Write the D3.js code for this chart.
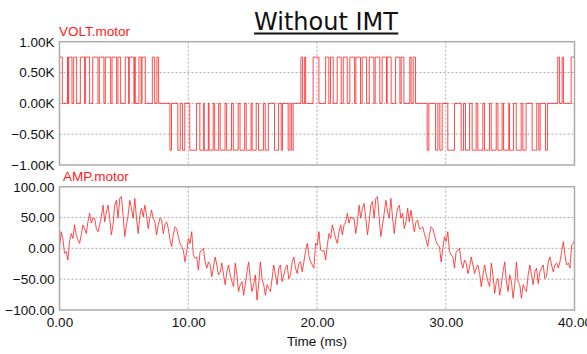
<!DOCTYPE html>
<html>
<head>
<meta charset="utf-8">
<script src="https://cdn.jsdelivr.net/npm/d3@7"></script>
<style>
  html, body { margin: 0; padding: 0; background: #fff; }
  svg { display: block; }
  .tick text { font-family: "Liberation Sans", Arial, sans-serif; font-size: 13.5px; fill: #111; }
</style>
</head>
<body>
<div id="chart"></div>
<script>
// axis ticks
const timeTicks = [0, 10, 20, 30, 40]
const voltTicks = [1000, 500, 0, -500, -1000]
const ampTicks = [100, 50, 0, -50, -100]

// PWM voltage: pulse [start, end] in ms
const posLevel = 750
const negLevel = -760
const posPulses = [
  [0, 0.22], [0.62, 0.66], [0.71, 0.97], [1.10, 1.33], [1.62, 1.95], [2.01, 2.34],
  [2.58, 2.99], [3.09, 3.45], [3.56, 3.97], [4.08, 4.44], [4.54, 4.75], [5.11, 5.37],
  [5.42, 5.78], [5.84, 5.88], [6.17, 6.35], [6.41, 6.66], [7.21, 7.39], [7.57, 7.70],
  [18.75, 18.88], [19.04, 19.12], [19.70, 20.15], [20.67, 20.92], [21.05, 21.26],
  [21.57, 21.88], [22.04, 22.35], [22.55, 22.92], [23.02, 23.38], [23.51, 23.85],
  [24.06, 24.42], [24.52, 24.88], [25.06, 25.40], [25.45, 25.76], [26.10, 26.44],
  [26.54, 26.75], [27.21, 27.31], [27.47, 27.65],
  [38.70, 38.83], [39.04, 39.14], [39.74, 40]
]
const negPulses = [
  [8.58, 8.70], [9.19, 9.38], [9.55, 9.73], [10.12, 10.64], [10.90, 11.20], [11.24, 11.56],
  [11.62, 11.94], [12.05, 12.36], [12.48, 12.86], [12.98, 13.36], [13.50, 13.88],
  [14.02, 14.38], [14.50, 14.88], [14.96, 15.28], [15.46, 15.84], [15.98, 16.22],
  [16.70, 17.02], [17.22, 17.32], [17.76, 17.90], [18.03, 18.15],
  [28.56, 28.69], [29.21, 29.39], [29.54, 29.72], [30.16, 30.68], [31.20, 31.38],
  [31.53, 31.85], [32.05, 32.36], [32.49, 32.88], [33.01, 33.40], [33.53, 33.92],
  [34.05, 34.38], [34.49, 34.90], [34.95, 35.26], [35.47, 35.86], [35.99, 36.24],
  [36.71, 37.07], [37.23, 37.33], [37.75, 37.90]
]

// motor current, one sample every ampStep ms from t = 0
const ampStep = 0.13
const ampValues = [
  0, 27, 16, -8, -5, -19, 11, 24, 16, 38, 22, 14, 8, 22, 38, 32, 24, 43, 57, 41,
  49, 49, 32, 27, 38, 51, 70, 43, 59, 70, 49, 22, 38, 70, 78, 49, 81, 84, 54, 19,
  38, 54, 78, 65, 49, 81, 49, 24, 54, 65, 51, 70, 54, 32, 49, 62, 49, 43, 22, 38,
  49, 46, 24, 38, 43, 32, 14, 3, 22, 35, 32, 19, 8, 3, -3, -22, -5,
  16, 8, 27, -11, -16, -14, -35, -5, -3, 0, -22, -32, -22, -27, -46, -30, -14, -27, -43, -38,
  -24, -43, -59, -38, -27, -43, -54, -62, -24, -43, -70, -59, -54, -76, -59, -38, -22, -49, -70, -59,
  -43, -84, -59, -22, -49, -59, -76, -59, -65, -70, -49, -27, -43, -59, -32, -27, -54, -43, -32, -27,
  -49, -43, -22, -14, -32, -41, -24, -22, -38, -22, -5, 8, -11, -22, -27, -32,
  8, 5, 27, -3, -5, -3, -19, 5, 24, 16, 38, 27, 16, 8, 27, 38, 22, 38, 43, 57,
  41, 51, 49, 49, 24, 43, 70, 49, 65, 73, 49, 22, 43, 70, 76, 49, 81, 84, 49, 19,
  38, 57, 78, 59, 49, 81, 49, 24, 49, 65, 70, 49, 57, 32, 43, 65, 43, 62, 43, 27,
  43, 46, 32, 32, 35, 24, 14, 3, 22, 35, 32, 22, 11, 5, 3, -22, 0,
  19, 11, 27, -5, -11, -14, -32, -5, -3, 0, -22, -32, -19, -24, -41, -30, -14, -27, -41, -32,
  -27, -41, -62, -43, -27, -43, -54, -62, -24, -43, -73, -54, -49, -76, -59, -38, -22, -54, -70, -43,
  -54, -81, -59, -22, -54, -59, -81, -59, -65, -70, -43, -27, -43, -59, -38, -32, -57, -38, -32, -27,
  -49, -46, -22, -14, -27, -38, -27, -24, -32, -22, -5, 11, -11, -27, -24, -32, 5, 8, 16
]

const W = 587, H = 354
const plotLeft = 59.5, plotRight = 574.5
const voltTop = 41.7, voltBottom = 165
const ampTop = 186.7, ampBottom = 310
const traceColor = '#ff1f1f'

const svg = d3.select('#chart').append('svg')
  .attr('width', W)
  .attr('height', H)

const x = d3.scaleLinear().domain([0, 40]).range([plotLeft, plotRight])
const yVolt = d3.scaleLinear().domain([-1000, 1000]).range([voltBottom, voltTop])
const yAmp = d3.scaleLinear().domain([-100, 100]).range([ampBottom, ampTop])

// title
const title = svg.append('text')
  .attr('x', 326)
  .attr('y', 30)
  .attr('text-anchor', 'middle')
  .attr('font-family', '"DejaVu Sans", Verdana, sans-serif')
  .attr('font-size', 24)
  .attr('fill', '#111')
  .text('Without IMT')
const tb = title.node().getBBox()
svg.append('line')
  .attr('x1', tb.x).attr('x2', tb.x + tb.width)
  .attr('y1', 33.5).attr('y2', 33.5)
  .attr('stroke', '#111')
  .attr('stroke-width', 2)

function drawPanel(y, ticks, fmt, top, bottom, id) {
  const g = svg.append('g')

  // clip for the trace
  svg.append('clipPath').attr('id', id)
    .append('rect')
    .attr('x', plotLeft).attr('y', top)
    .attr('width', plotRight - plotLeft).attr('height', bottom - top)

  // dotted grid
  g.selectAll('.hgrid')
    .data(ticks.filter(d => d !== ticks[0] && d !== ticks[ticks.length - 1]))
    .join('line')
    .attr('x1', plotLeft).attr('x2', plotRight)
    .attr('y1', d => y(d)).attr('y2', d => y(d))
    .attr('stroke', '#a8a8a8')
    .attr('stroke-dasharray', '2,2')
  g.selectAll('.vgrid')
    .data(timeTicks.slice(1, -1))
    .join('line')
    .attr('x1', d => x(d)).attr('x2', d => x(d))
    .attr('y1', top).attr('y2', bottom)
    .attr('stroke', '#a8a8a8')
    .attr('stroke-dasharray', '2,2')

  // y axis labels
  const axis = g.append('g')
    .attr('transform', `translate(${plotLeft},0)`)
    .call(d3.axisLeft(y).tickValues(ticks).tickFormat(fmt).tickSize(0).tickPadding(5))
  axis.select('.domain').remove()

  return g
}

drawPanel(yVolt, voltTicks, d => d3.format('.2f')(d / 1000) + 'K', voltTop, voltBottom, 'clipVolt')
drawPanel(yAmp, ampTicks, d3.format('.2f'), ampTop, ampBottom, 'clipAmp')

// voltage step trace
const pulses = posPulses.map(p => [p[0], p[1], posLevel])
  .concat(negPulses.map(p => [p[0], p[1], negLevel]))
  .sort((a, b) => a[0] - b[0])
const voltPts = [[0, 0]]
pulses.forEach(p => {
  voltPts.push([p[0], 0], [p[0], p[2]], [p[1], p[2]], [p[1], 0])
})
voltPts.push([40, 0])

svg.append('path')
  .datum(voltPts)
  .attr('clip-path', 'url(#clipVolt)')
  .attr('fill', 'none')
  .attr('stroke', traceColor)
  .attr('stroke-width', 1)
  .attr('stroke-opacity', 0.8)
  .attr('d', d3.line().x(d => x(d[0])).y(d => yVolt(d[1])))

// current trace
svg.append('path')
  .datum(ampValues)
  .attr('clip-path', 'url(#clipAmp)')
  .attr('fill', 'none')
  .attr('stroke', traceColor)
  .attr('stroke-width', 1)
  .attr('stroke-opacity', 0.8)
  .attr('d', d3.line().x((d, i) => x(i * ampStep)).y(d => yAmp(d)))

// frames
;[[voltTop, voltBottom], [ampTop, ampBottom]].forEach(([t, b]) => {
  svg.append('rect')
    .attr('x', plotLeft).attr('y', t)
    .attr('width', plotRight - plotLeft).attr('height', b - t)
    .attr('fill', 'none')
    .attr('stroke', '#ababab')
    .attr('stroke-width', 1.5)
})

// series labels
svg.append('text')
  .attr('x', 59).attr('y', 36)
  .attr('font-family', '"Liberation Sans", Arial, sans-serif')
  .attr('font-size', 13.5)
  .attr('fill', '#ff1a1a')
  .text('VOLT.motor')
svg.append('text')
  .attr('x', 63).attr('y', 181)
  .attr('font-family', '"Liberation Sans", Arial, sans-serif')
  .attr('font-size', 13.5)
  .attr('fill', '#ff1a1a')
  .text('AMP.motor')

// time axis
const xAxis = svg.append('g')
  .attr('transform', `translate(0,${ampBottom})`)
  .call(d3.axisBottom(x).tickValues(timeTicks).tickFormat(d3.format('.2f')).tickSize(0).tickPadding(7))
xAxis.select('.domain').remove()

svg.append('text')
  .attr('x', (plotLeft + plotRight) / 2)
  .attr('y', 346)
  .attr('text-anchor', 'middle')
  .attr('font-family', '"Liberation Sans", Arial, sans-serif')
  .attr('font-size', 13.5)
  .attr('fill', '#111')
  .text('Time (ms)')
</script>
</body>
</html>
